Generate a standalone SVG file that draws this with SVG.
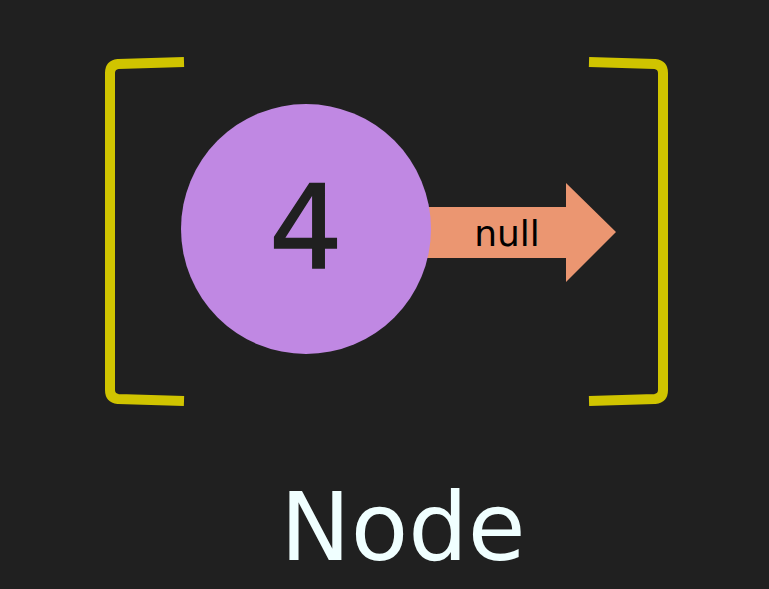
<svg xmlns="http://www.w3.org/2000/svg" width="769" height="589" viewBox="0 0 769 589">
<style>
.br{fill:none;stroke:#D0C400;stroke-width:10;stroke-linecap:butt;stroke-linejoin:round}
.t{font-family:"DejaVu Sans",sans-serif;text-anchor:middle}
</style>
<rect width="769" height="589" fill="#202020"/>
<g id="bracket-left"><path class="br" d="M184,62 L118,64 Q110,65 110,73 L110,390 Q110,398 118,399 L184,401"/></g>
<g id="bracket-right"><path class="br" d="M589,62 L655,64 Q663,65 663,73 L663,390 Q663,398 655,399 L589,401"/></g>
<g id="connectors">
<polygon id="arrow" points="420,207 566,207 566,183 616,232 566,282 566,258 420,258" fill="#EB9671"/>
</g>
<g id="node-circle">
<circle cx="306" cy="229" r="125" fill="#C088E3"/>
<text class="t" x="306" y="268" font-size="116" fill="#202020" stroke="#202020" stroke-width="1.5">4</text>
</g>
<text class="t" x="507" y="246" font-size="36" fill="#000">null</text>
<text class="t" x="403" y="560" font-size="94" fill="#F0FFFF">Node</text>
</svg>
